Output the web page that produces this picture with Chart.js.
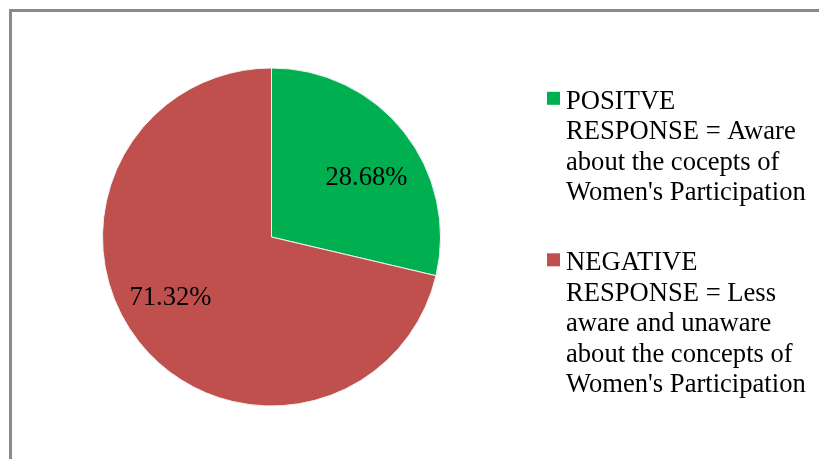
<!DOCTYPE html>
<html>
<head>
<meta charset="utf-8">
<script src="https://cdn.jsdelivr.net/npm/chart.js@4/dist/chart.umd.min.js"></script>
<style>
  html, body { margin: 0; padding: 0; background: #ffffff; overflow: hidden; }
  #wrap { position: relative; width: 819px; height: 459px; }
  #frame {
    position: absolute; left: 9px; top: 9px; width: 830px; height: 470px;
    border-top: 3px solid #898989; border-left: 3px solid #898989;
    box-sizing: border-box; pointer-events: none;
  }
  canvas { position: absolute; left: 0; top: 0; }
</style>
</head>
<body>
<div id="wrap">
  <canvas id="c" width="819" height="459"></canvas>
  <div id="frame"></div>
</div>
<script>
// Survey response shares (percent)
const categories = [
  ["POSITVE", "RESPONSE = Aware", "about the cocepts of", "Women's Participation"],
  ["NEGATIVE", "RESPONSE = Less", "aware and unaware", "about the concepts of", "Women's Participation"]
];
const values = [28.68, 71.32];
const valueLabels = ["28.68%", "71.32%"];
const colors = ["#00B050", "#C0504D"];

const FONT = "26.6px 'Liberation Serif', 'Times New Roman', serif";

// Percentage text inside each slice
const sliceLabels = {
  id: 'sliceLabels',
  afterDatasetsDraw(chart) {
    const ctx = chart.ctx;
    const meta = chart.getDatasetMeta(0);
    ctx.save();
    ctx.font = FONT;
    ctx.fillStyle = '#000000';
    ctx.textAlign = 'center';
    ctx.textBaseline = 'middle';
    meta.data.forEach((arc, i) => {
      const p = arc.getProps(['x', 'y', 'startAngle', 'endAngle', 'outerRadius'], true);
      const mid = (p.startAngle + p.endAngle) / 2 + 0.12;
      const r = p.outerRadius * 0.68;
      ctx.fillText(valueLabels[i], p.x - 3 + Math.cos(mid) * r, p.y + Math.sin(mid) * r + 1);
    });
    ctx.restore();
  }
};

// Legend on the right: colour square + wrapped label lines
const sideLegend = {
  id: 'sideLegend',
  afterDraw(chart) {
    const ctx = chart.ctx;
    const x0 = 547, textX = 566, lineH = 30.4, groupGap = 39.9;
    let baseline = 108.8;
    ctx.save();
    ctx.font = FONT;
    ctx.textAlign = 'left';
    ctx.textBaseline = 'alphabetic';
    chart.data.labels.forEach((lines, i) => {
      ctx.fillStyle = colors[i];
      ctx.fillRect(x0, baseline - 17, 13, 13);
      ctx.fillStyle = '#000000';
      lines.forEach((line, j) => {
        ctx.fillText(line, textX, baseline + j * lineH);
      });
      baseline += (lines.length - 1) * lineH + groupGap + lineH;
    });
    ctx.restore();
  }
};

new Chart(document.getElementById('c'), {
  type: 'pie',
  data: {
    labels: categories,
    datasets: [{
      data: values,
      backgroundColor: colors,
      borderColor: '#f2f2f2',
      borderWidth: 1
    }]
  },
  options: {
    responsive: false,
    animation: false,
    rotation: 0,
    layout: { padding: { left: 102, right: 378, top: 67, bottom: 52 } },
    plugins: {
      legend: { display: false },
      tooltip: { enabled: false },
      title: { display: false }
    }
  },
  plugins: [sliceLabels, sideLegend]
});
</script>
</body>
</html>
